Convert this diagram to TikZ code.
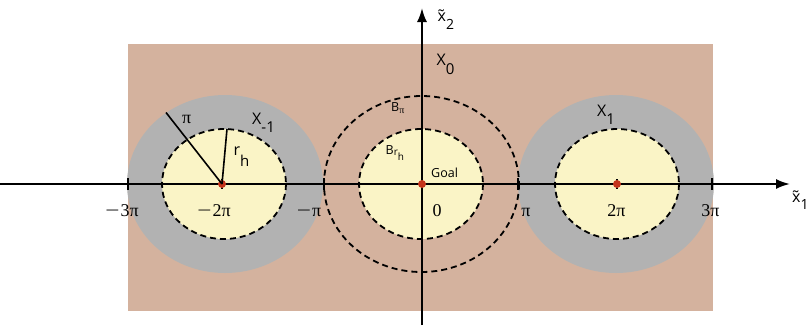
\documentclass[tikz,border=0pt]{standalone}
\usepackage{fontspec}
\usepackage{graphicx}
\setmainfont{Open Sans}
\newfontfamily\serifnum{Liberation Serif}
\usetikzlibrary{arrows.meta}
\definecolor{tanbg}{RGB}{212,178,158}
\definecolor{grayreg}{RGB}{178,178,178}
\definecolor{goalyel}{RGB}{250,244,198}
\definecolor{dotred}{RGB}{196,52,28}
\tikzset{
  axisline/.style={line width=2pt},
  dashring/.style={line width=1.8pt, dash pattern=on 6pt off 4pt},
  tickmark/.style={line width=1.6pt},
  lbl/.style={inner sep=0pt, font=\fontsize{16}{16}\selectfont},
  numlbl/.style={inner sep=0pt, font=\serifnum\fontsize{18}{18}\selectfont},
  smalllbl/.style={inner sep=0pt, font=\fontsize{12.5}{12.5}\selectfont},
  reddot/.style={circle, fill=dotred, inner sep=0pt, minimum size=8pt}
}
\newcommand{\lowsub}[2]{\raisebox{-#1}{#2}}
\newcommand{\wminus}{\scalebox{1.4}[1]{−}\kern1pt}
\begin{document}
\begin{tikzpicture}[x=1pt,y=-1pt]
\useasboundingbox (0,0) rectangle (809,325);
% background
\fill[tanbg] (128,44) rectangle (713,311);
% gray regions
\fill[grayreg] (225,184) ellipse [x radius=98, y radius=89];
\fill[grayreg] (616,184) ellipse [x radius=98, y radius=89];
% yellow regions
\fill[goalyel] (224,184) ellipse [x radius=62, y radius=55];
\fill[goalyel] (421,184) ellipse [x radius=62, y radius=55];
\fill[goalyel] (617,184) ellipse [x radius=62, y radius=55];
\draw[dashring] (224,184) ellipse [x radius=62, y radius=55];
\draw[dashring] (421,184) ellipse [x radius=62, y radius=55];
\draw[dashring] (617,184) ellipse [x radius=62, y radius=55];
% B_pi ring
\draw[dashring] (421.5,184) ellipse [x radius=97.5, y radius=88];
% axes
\coordinate (xs) at (0,184);
\coordinate (xe) at (790,184);
\coordinate (ys) at (422,325);
\coordinate (ye) at (422,8);
\draw[axisline, -{Latex[length=14pt, width=10pt]}] (xs) -- (xe);
\draw[axisline, -{Latex[length=14pt, width=10pt]}] (ys) -- (ye);
% ticks
\foreach \t in {128,324,518,712}{
  \draw[tickmark] (\t,178) -- (\t,190);
}
\foreach \t in {222,617}{
  \draw[tickmark] (\t,179) -- (\t,189);
}
% centres
\node[reddot] (cm) at (222,184) {};
\node[reddot] (c0) at (422,184) {};
\node[reddot] (cp) at (617,184) {};
% radii
\coordinate (rpi) at (166,112.5);
\coordinate (rrh) at (227,129);
\draw[line width=1.6pt] (cm.center) -- (rpi);
\draw[line width=1.6pt] (cm.center) -- (rrh);
% labels
\node[lbl, anchor=base west] (xm1) at (252,124.5) {X\lowsub{8pt}{\fontsize{15}{15}\selectfont -1}};
\node[numlbl, anchor=base west] (pil) at (182,123) {π};
\node[lbl, anchor=base west] (rh) at (233.5,155) {r\lowsub{11pt}{\fontsize{15}{15}\selectfont h}};
\node[numlbl, anchor=base] (m3) at (122,216.5) {\wminus 3π};
\node[numlbl, anchor=base] (m2) at (214,216.5) {\wminus 2π};
\node[numlbl, anchor=base] (m1) at (309,216.5) {\wminus π};
\node[numlbl, anchor=base] (z0) at (437,216.5) {0};
\node[numlbl, anchor=base] (p1) at (526,216.5) {π};
\node[numlbl, anchor=base] (p2) at (616.5,216.5) {2π};
\node[numlbl, anchor=base] (p3) at (710.5,216.5) {3π};
\node[lbl, anchor=base west] (x0) at (436.5,65.5) {X\lowsub{8.5pt}{\fontsize{15}{15}\selectfont 0}};
\node[lbl, anchor=base west] (x1) at (597,116.5) {X\lowsub{8pt}{\fontsize{15}{15}\selectfont 1}};
\node[smalllbl, anchor=base west] (bpi) at (391,111.5) {B\lowsub{2pt}{\serifnum\fontsize{10}{10}\selectfont π}};
\node[smalllbl, anchor=base west] (brh) at (385.5,154) {B\lowsub{1pt}{\fontsize{10}{10}\selectfont r\lowsub{5pt}{\fontsize{10}{10}\selectfont h}}};
\node[smalllbl, anchor=base west] (goal) at (431,177) {Goal};
\node[lbl, anchor=base west] (xt2) at (437.5,21) {\~{x}\lowsub{8pt}{\fontsize{14}{14}\selectfont 2}};
\node[lbl, anchor=base west] (xt1) at (792,202.5) {\~{x}\lowsub{7pt}{\fontsize{14}{14}\selectfont 1}};
\end{tikzpicture}
\end{document}
